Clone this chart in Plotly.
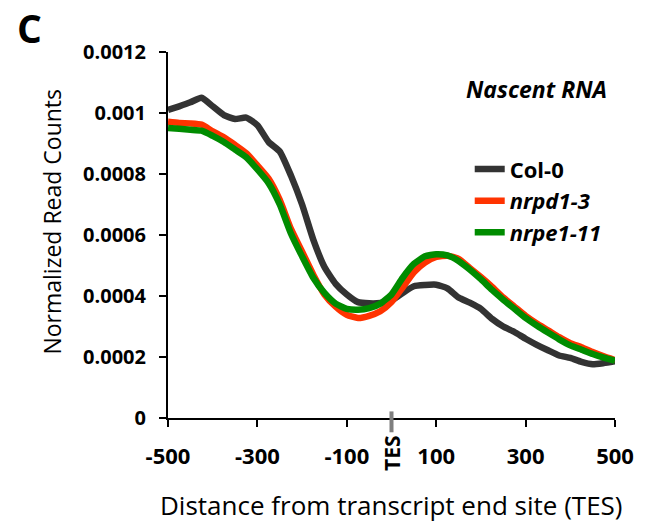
import plotly.graph_objects as go

distance = [-500, -475, -450, -425, -400, -375, -350, -325, -300, -275, -250,
            -225, -200, -175, -150, -125, -100, -75, -50, -25, 0,
            25, 50, 75, 100, 125, 150, 175, 200, 225, 250,
            275, 300, 325, 350, 375, 400, 425, 450, 475, 500]

col0 = [0.001010, 0.001022, 0.001035, 0.001050, 0.001022, 0.000993, 0.000980, 0.000985,
        0.000960, 0.000905, 0.000874, 0.000795, 0.000700, 0.000585, 0.000495, 0.000440,
        0.000405, 0.000380, 0.000376, 0.000377, 0.000385, 0.000410, 0.000432, 0.000436,
        0.000437, 0.000425, 0.000395, 0.000378, 0.000358, 0.000325, 0.000300, 0.000282,
        0.000260, 0.000240, 0.000222, 0.000205, 0.000197, 0.000184, 0.000176, 0.000180,
        0.000186]

nrpd1_3 = [0.000971, 0.000967, 0.000966, 0.000962, 0.000940, 0.000920, 0.000895, 0.000868,
           0.000828, 0.000785, 0.000715, 0.000620, 0.000545, 0.000470, 0.000405, 0.000365,
           0.000338, 0.000328, 0.000335, 0.000350, 0.000380, 0.000428, 0.000478, 0.000510,
           0.000528, 0.000532, 0.000522, 0.000492, 0.000462, 0.000430, 0.000395, 0.000365,
           0.000335, 0.000310, 0.000288, 0.000265, 0.000245, 0.000232, 0.000216, 0.000202,
           0.000190]

nrpe1_11 = [0.000951, 0.000948, 0.000945, 0.000942, 0.000925, 0.000905, 0.000880, 0.000855,
            0.000815, 0.000770, 0.000700, 0.000605, 0.000530, 0.000460, 0.000410, 0.000375,
            0.000358, 0.000355, 0.000360, 0.000375, 0.000405, 0.000460, 0.000505, 0.000530,
            0.000537, 0.000533, 0.000515, 0.000487, 0.000455, 0.000420, 0.000388, 0.000358,
            0.000328, 0.000303, 0.000280, 0.000258, 0.000238, 0.000224, 0.000210, 0.000198,
            0.000188]

x_tickvals = [-500, -300, -100, 100, 300, 500]
x_ticktext = ["-500", "-300", "-100", "100", "300", "500"]
y_tickvals = [0, 0.0002, 0.0004, 0.0006, 0.0008, 0.001, 0.0012]
y_ticktext = ["0", "0.0002", "0.0004", "0.0006", "0.0008", "0.001", "0.0012"]

FONT = "Open Sans"
LW = 6.5

fig = go.Figure()
fig.add_trace(go.Scatter(x=distance, y=col0, mode="lines", name="<b>Col-0</b>",
                         line=dict(color="#333333", width=LW, shape="spline", smoothing=0.5)))
fig.add_trace(go.Scatter(x=distance, y=nrpd1_3, mode="lines", name="<b><i>nrpd1-3</i></b>",
                         line=dict(color="#ff3300", width=LW, shape="spline", smoothing=0.5)))
fig.add_trace(go.Scatter(x=distance, y=nrpe1_11, mode="lines", name="<b><i>nrpe1-11</i></b>",
                         line=dict(color="#008c00", width=LW, shape="spline", smoothing=0.5)))

fig.update_layout(
    width=663, height=531,
    margin=dict(l=168, r=48, t=52, b=113),
    paper_bgcolor="white", plot_bgcolor="white",
    font=dict(family=FONT, color="black"),
    showlegend=True,
    legend=dict(x=0.675, y=0.737, xanchor="left", yanchor="top",
                bgcolor="rgba(0,0,0,0)", font=dict(size=22, family=FONT, color="black"),
                itemwidth=30, tracegroupgap=0),
    xaxis=dict(range=[-500, 500], showgrid=False, zeroline=False,
               showline=True, linecolor="black", linewidth=2,
               ticks="outside", ticklen=7, tickwidth=2, tickcolor="black",
               tickvals=x_tickvals, ticktext=x_ticktext,
               tickfont=dict(size=22, family=FONT, color="black", weight="bold"),
               ticklabelstandoff=11),
    yaxis=dict(range=[0, 0.0012], showgrid=False, zeroline=False,
               showline=True, linecolor="black", linewidth=2,
               ticks="outside", ticklen=7, tickwidth=2, tickcolor="black",
               tickvals=y_tickvals, ticktext=y_ticktext,
               tickfont=dict(size=20, family=FONT, color="black", weight="bold"),
               ticklabelstandoff=9),
)

# TES marker on the x axis
fig.add_shape(type="line", xref="paper", yref="paper", x0=0.5, x1=0.5, y0=0.018, y1=-0.039,
              line=dict(color="#7f7f7f", width=4))

fig.add_annotation(text="<b>TES</b>", xref="paper", yref="paper", x=0.5, y=-0.097,
                   xanchor="center", yanchor="middle",
                   showarrow=False, textangle=-90, font=dict(size=21, family=FONT, color="black"))
fig.add_annotation(text="Distance from transcript end site (TES)", xref="paper", yref="paper",
                   x=0.5, y=-0.237, xanchor="center", yanchor="middle", showarrow=False,
                   font=dict(size=26, family=FONT, color="black"))
fig.add_annotation(text="Normalized Read Counts", xref="paper", yref="paper",
                   x=-0.26, y=0.536, xanchor="center", yanchor="middle", showarrow=False,
                   textangle=-90, font=dict(size=23, family=FONT, color="black"))
fig.add_annotation(text="<b>C</b>", xref="paper", yref="paper", x=-0.309, y=1.141,
                   xanchor="center", yanchor="top", borderpad=0,
                   showarrow=False, font=dict(size=39, family=FONT, color="black"))
fig.add_annotation(text="<b><i>Nascent RNA</i></b>", xref="paper", yref="paper",
                   x=0.987, y=0.90, xanchor="right", yanchor="middle", showarrow=False,
                   font=dict(size=23, family=FONT, color="black"))

fig.write_html("out.html")
